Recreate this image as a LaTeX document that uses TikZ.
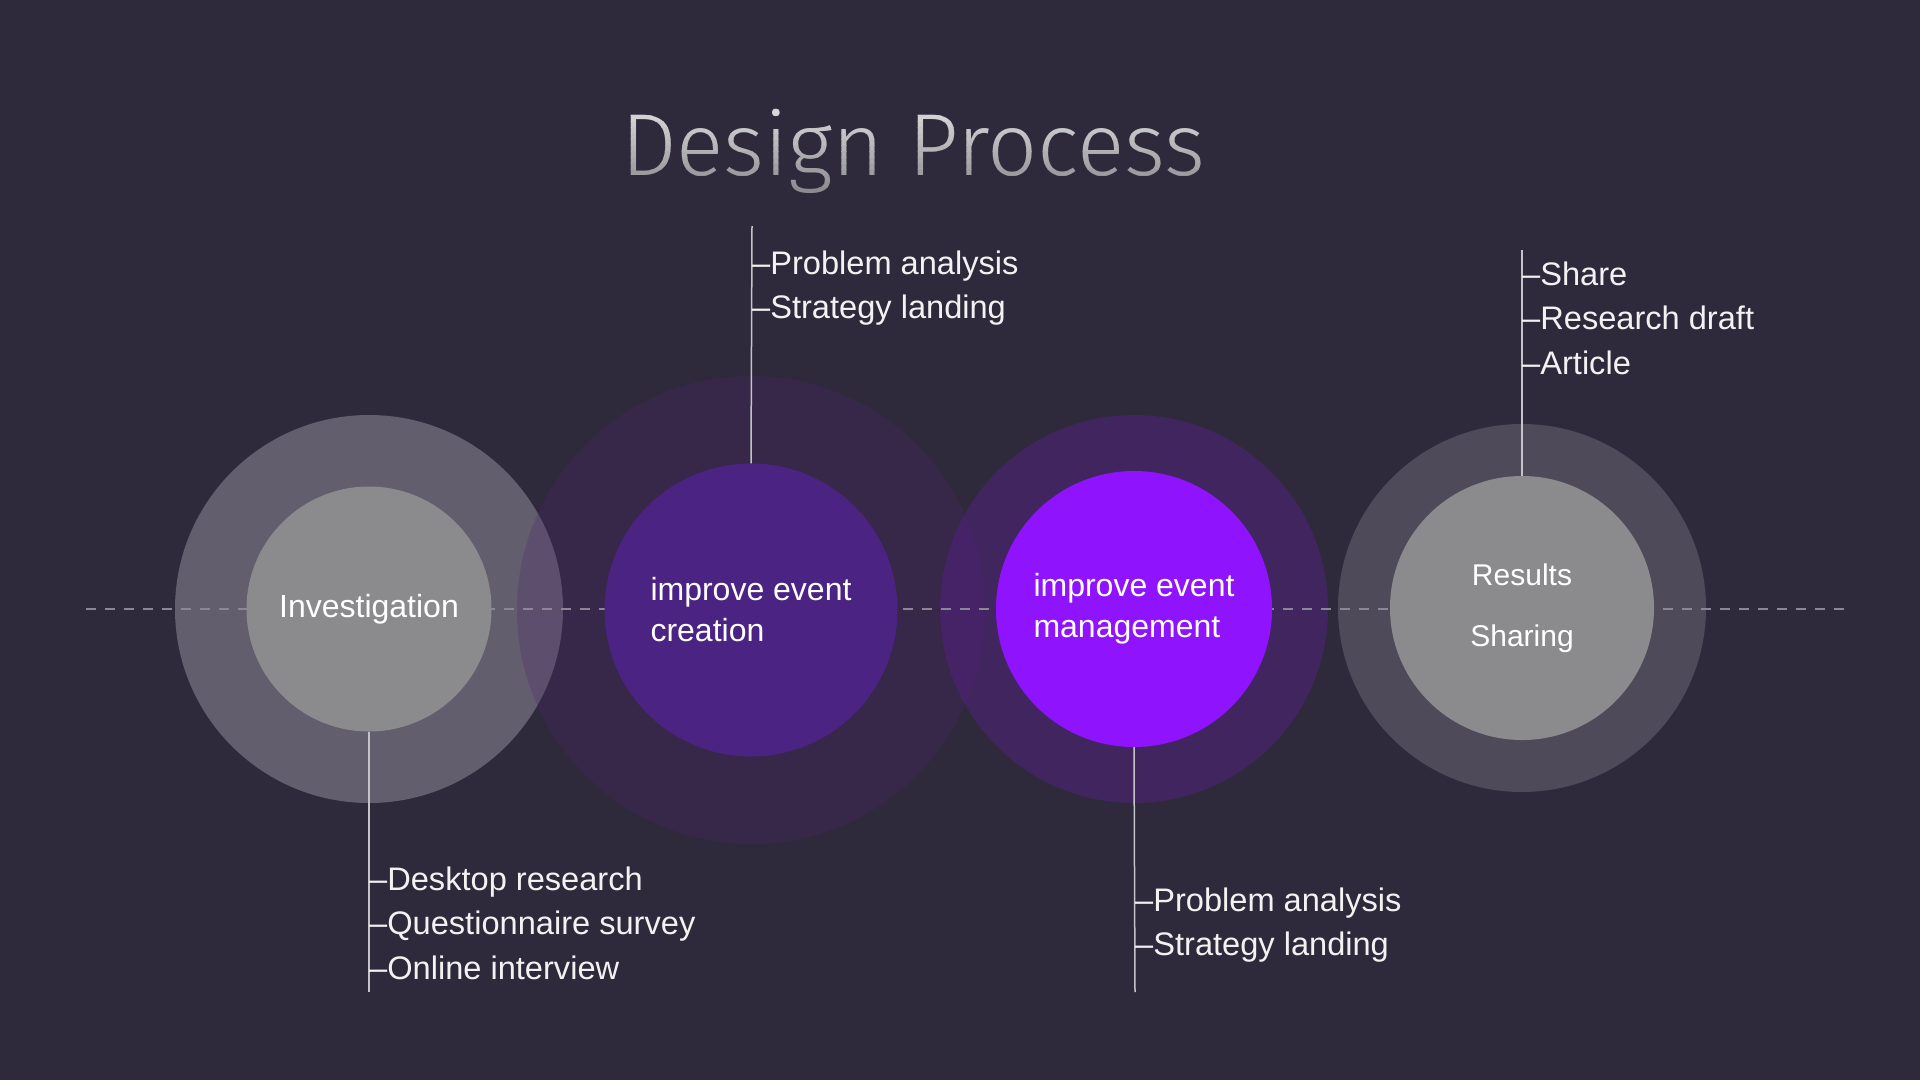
\documentclass[tikz,border=0pt]{standalone}
\usepackage{fontspec}
\setmainfont{Liberation Sans}
\newfontfamily\titlefont{Fira Sans Light}
\usepackage{tikz}
\usetikzlibrary{positioning}

\definecolor{bgcol}{HTML}{2E2A3B}
\definecolor{ringgrey}{HTML}{625E6D}
\definecolor{ringsoft}{HTML}{4F4A5A}
\definecolor{discgrey}{HTML}{8B8B8E}
\definecolor{ringviolet}{HTML}{52226F}
\definecolor{ringpurple}{HTML}{5A1F8B}
\definecolor{discviolet}{HTML}{4B2383}
\definecolor{discpurple}{HTML}{8F14FD}
\definecolor{axisgrey}{HTML}{8D8698}
\definecolor{leadgrey}{HTML}{C4C4C8}
\definecolor{titletop}{HTML}{DEDEE0}
\definecolor{titlebottom}{HTML}{8C8C90}

\begin{document}
\begin{tikzpicture}[x=1pt,y=-1pt,
  disc/.style={circle,inner sep=0pt,text=white,font=\fontsize{32}{41}\selectfont},
  lead/.style={leadgrey,line width=1.5pt},
  item/.style={anchor=base west,inner sep=0pt,text=white!95!black,font=\fontsize{32.6}{40}\selectfont},
  titletext/.style={anchor=base,inner sep=0pt,font=\titlefont\fontsize{88}{94}\selectfont}]
\useasboundingbox(0,0)rectangle(1920,1080);
\fill[bgcol](0,0)rectangle(1920,1080);
% title, shaded top to bottom
\foreach \k in {0,...,14}{
  \pgfmathtruncatemacro\tint{100-\k*100/14}
  \begin{scope}
  \clip(560,103+6*\k)rectangle(1270,109.5+6*\k);
  \node[titletext,text=titletop!\tint!titlebottom](title)at(913,175){Design Process};
  \end{scope}
}
% centres
\coordinate(c1)at(369,609);
\coordinate(c2)at(751,610);
\coordinate(c3)at(1134,609);
\coordinate(c4)at(1522,608);
% outer rings
\fill[ringgrey](c1)circle[radius=194];
\fill[ringviolet,fill opacity=0.25](c2)circle[radius=234];
\fill[ringpurple,fill opacity=0.45](c3)circle[radius=194];
\fill[ringsoft](c4)circle[radius=184];
% axis
\draw[axisgrey,line width=2pt,dash pattern=on 10pt off 9pt](86,609)--(1844,609);
% discs
\node[disc,fill=discgrey,minimum size=245](inv)at(c1){Investigation};
\node[disc,fill=discviolet,minimum size=293,align=left](cre)at(c2){improve event\\creation};
\node[disc,fill=discpurple,minimum size=276,align=left](man)at(c3){improve event\\management};
\node[disc,fill=discgrey,minimum size=264,align=center,font=\fontsize{30}{41}\selectfont](res)at(c4){Results\\[20pt]Sharing};
% leaders
\coordinate(inve)at(369,992);
\coordinate(cree)at(752,226);
\coordinate(mane)at(1135,992);
\coordinate(rese)at(1522,250);
\draw[lead](inv.south)--(inve);
\draw[lead](cre.north)--(cree);
\draw[lead](man.south)--(mane);
\draw[lead](res.north)--(rese);
% lists
\path(369,890)node[item](inv1){–Desktop research}
(369,934.5)node[item](inv2){–Questionnaire survey}
(369,979)node[item](inv3){–Online interview};
\path(752,274)node[item](cre1){–Problem analysis}
(752,318.5)node[item](cre2){–Strategy landing};
\path(1135,911)node[item](man1){–Problem analysis}
(1135,955.5)node[item](man2){–Strategy landing};
\path(1522,285)node[item](res1){–Share}
(1522,329.5)node[item](res2){–Research draft}
(1522,374)node[item](res3){–Article};
\end{tikzpicture}
\end{document}
